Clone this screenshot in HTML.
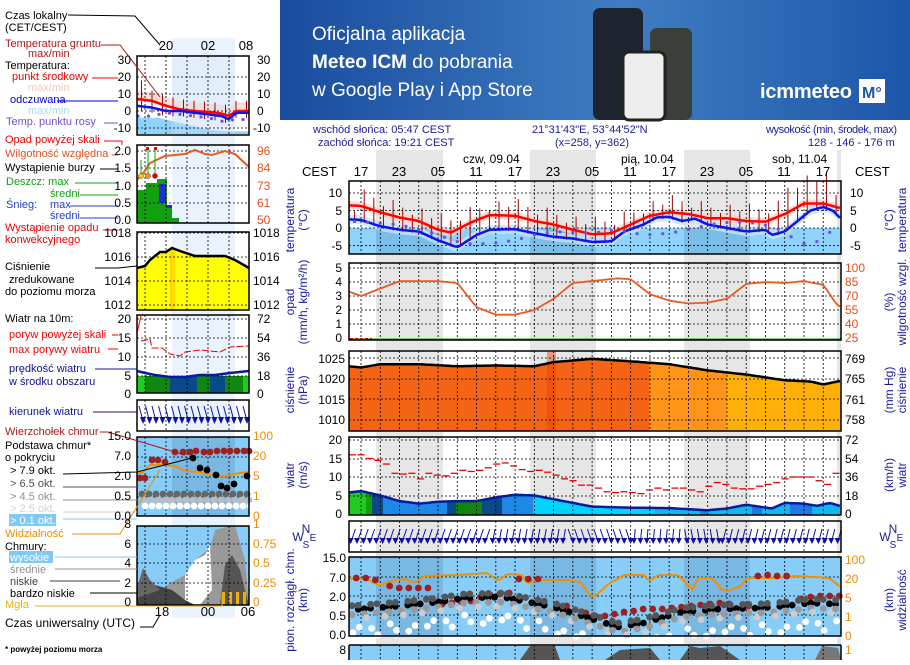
<!DOCTYPE html>
<html><head><meta charset="utf-8"><style>
body{margin:0;width:910px;height:660px;overflow:hidden;background:#fff;font-family:"Liberation Sans",sans-serif}
svg text{font-family:"Liberation Sans",sans-serif}
</style></head><body>
<svg id="s" width="910" height="660" xmlns="http://www.w3.org/2000/svg">
<defs><linearGradient id="bn" x1="0" x2="1"><stop offset="0" stop-color="#1a4c9e"/><stop offset="0.55" stop-color="#3f7dc2"/><stop offset="1" stop-color="#1d56a8"/></linearGradient></defs>
<rect x="280" y="0" width="630" height="120" fill="url(#bn)"/>
<g fill="#fff" font-size="19"><text x="312" y="40">Oficjalna aplikacja</text><text x="312" y="68"><tspan font-weight="bold">Meteo ICM</tspan> do pobrania</text><text x="312" y="96">w Google Play i App Store</text></g>
<rect x="593" y="8" width="50" height="112" rx="7" fill="#1d2430"/><rect x="650" y="28" width="42" height="92" rx="7" fill="#3a3f3a"/><rect x="623" y="52" width="42" height="68" rx="6" fill="#eee" stroke="#222" stroke-width="3"/>
<text x="760" y="98" fill="#fff" font-size="20" font-weight="bold" textLength="92">icmmeteo</text><rect x="859" y="79" width="26" height="24" fill="#fff"/><text x="862" y="98" fill="#1d56a8" font-size="16" font-weight="bold">M°</text>
<g id="g"></g>
<g font-size="11" fill="#1a1a9e">
<text x="313" y="133">wschód słońca: 05:47 CEST</text><text x="318" y="146">zachód słońca: 19:21 CEST</text>
<text x="532" y="133">21°31'43"E, 53°44'52"N</text><text x="555" y="146">(x=258,  y=362)</text>
<text x="766" y="133" textLength="131">wysokość (min, środek, max)</text><text x="808" y="146">128 - 146 - 176 m</text>
</g>
<g font-size="12" fill="#000">
<text x="463" y="163">czw, 09.04</text><text x="621" y="163">pią, 10.04</text><text x="772" y="163">sob, 11.04</text>
<text x="302" y="176" font-size="13">CEST</text><text x="855" y="176" font-size="13">CEST</text>
<g font-size="13" text-anchor="middle"><text x="361" y="176">17</text><text x="399" y="176">23</text><text x="438" y="176">05</text><text x="476" y="176">11</text><text x="515" y="176">17</text><text x="553" y="176">23</text><text x="592" y="176">05</text><text x="630" y="176">11</text><text x="669" y="176">17</text><text x="707" y="176">23</text><text x="746" y="176">05</text><text x="784" y="176">11</text><text x="823" y="176">17</text></g>
</g>
<g font-size="12" text-anchor="end" fill="#000">
<text x="342" y="197">10</text><text x="342" y="215">5</text><text x="342" y="232">0</text><text x="342" y="250">-5</text>
<text x="342" y="272">5</text><text x="342" y="286">4</text><text x="342" y="300">3</text><text x="342" y="314">2</text><text x="342" y="328">1</text><text x="342" y="342">0</text>
<text x="345" y="363">1025</text><text x="345" y="383">1020</text><text x="345" y="404">1015</text><text x="345" y="424">1010</text>
<text x="342" y="444">20</text><text x="342" y="463">15</text><text x="342" y="481">10</text><text x="342" y="500">5</text><text x="342" y="518">0</text>
<text x="346" y="562">15.0</text><text x="346" y="582">7.0</text><text x="346" y="601">2.0</text><text x="346" y="620">0.5</text><text x="346" y="639">0.0</text>
<text x="346" y="654">8</text>
</g>
<g font-size="12" fill="#000">
<text x="850" y="197">10</text><text x="850" y="215">5</text><text x="850" y="232">0</text><text x="850" y="250">-5</text>
<text x="845" y="363">769</text><text x="845" y="383">765</text><text x="845" y="404">761</text><text x="845" y="424">758</text>
<text x="845" y="444">72</text><text x="845" y="463">54</text><text x="845" y="481">36</text><text x="845" y="500">18</text><text x="845" y="518">0</text>
</g>
<g font-size="12" fill="#e0501a">
<text x="845" y="272">100</text><text x="845" y="286">85</text><text x="845" y="300">70</text><text x="845" y="314">55</text><text x="845" y="328">40</text><text x="845" y="342">25</text>
<text x="845" y="564" fill="#f08c00">100</text><text x="845" y="583" fill="#f08c00">20</text><text x="845" y="602" fill="#f08c00">5</text><text x="845" y="621" fill="#f08c00">1</text><text x="845" y="640" fill="#f08c00">0</text><text x="845" y="654" fill="#f08c00">1</text>
</g>
<g font-size="12" fill="#1a1a9e" text-anchor="middle">
<text transform="translate(294,220) rotate(-90)">temperatura</text><text transform="translate(307,220) rotate(-90)">(°C)</text>
<text transform="translate(294,302) rotate(-90)">opad</text><text transform="translate(307,302) rotate(-90)">(mm/h, kg/m²/h)</text>
<text transform="translate(294,390) rotate(-90)">ciśnienie</text><text transform="translate(307,390) rotate(-90)">(hPa)</text>
<text transform="translate(294,475) rotate(-90)">wiatr</text><text transform="translate(307,475) rotate(-90)">(m/s)</text>
<text transform="translate(294,600) rotate(-90)">pion. rozciągł. chm.</text><text transform="translate(307,600) rotate(-90)">(km)</text>
<text transform="translate(893,220) rotate(-90)">(°C)</text><text transform="translate(906,220) rotate(-90)">temperatura</text>
<text transform="translate(893,302) rotate(-90)">(%)</text><text transform="translate(906,302) rotate(-90)">wilgotność wzgl.</text>
<text transform="translate(893,390) rotate(-90)">(mm Hg)</text><text transform="translate(906,390) rotate(-90)">ciśnienie</text>
<text transform="translate(893,475) rotate(-90)">(km/h)</text><text transform="translate(906,475) rotate(-90)">wiatr</text>
<text transform="translate(893,600) rotate(-90)">(km)</text><text transform="translate(906,600) rotate(-90)">widzialność</text>
<text x="298" y="541" font-size="12">W</text><text x="306" y="533" font-size="12">N</text><text x="306" y="548" font-size="10">S</text><text x="313" y="541" font-size="10">E</text>
<text x="885" y="541" font-size="12">W</text><text x="893" y="533" font-size="12">N</text><text x="893" y="548" font-size="10">S</text><text x="900" y="541" font-size="10">E</text>
</g>
<!-- left panel text -->
<g font-size="11" fill="#000">
<text x="5" y="19">Czas lokalny</text><text x="5" y="31">(CET/CEST)</text>
<text x="5" y="47" fill="#b01818">Temperatura gruntu</text><text x="28" y="57" fill="#b01818">max/min</text>
<text x="5" y="69">Temperatura:</text><text x="12" y="80" fill="#f00000">punkt środkowy</text><text x="28" y="91" fill="#f8c8b8">max/min</text>
<text x="10" y="103" fill="#0000e0">odczuwana</text><text x="28" y="114" fill="#a8dcf0">max/min</text><text x="6" y="125" fill="#7050d0">Temp. punktu rosy</text>
<text x="5" y="143" fill="#f00000">Opad powyżej skali</text><text x="5" y="157" fill="#e05020">Wilgotność względna</text><text x="5" y="171">Wystąpienie burzy</text>
<text x="6" y="185" fill="#10a010">Deszcz: max</text><text x="50" y="197" fill="#10a010">średni</text>
<text x="6" y="208" fill="#2040d0">Śnieg:</text><text x="50" y="208" fill="#2040d0">max</text><text x="50" y="219" fill="#2040d0">średni</text>
<text x="5" y="231" fill="#f00000">Wystąpienie opadu</text><text x="5" y="243" fill="#f00000">konwekcyjnego</text>
<text x="5" y="270">Ciśnienie</text><text x="9" y="283">zredukowane</text><text x="5" y="295">do poziomu morza</text>
<text x="5" y="322">Wiatr na 10m:</text><text x="9" y="338" fill="#f00000">poryw powyżej skali</text><text x="9" y="353" fill="#f00000">max porywy wiatru</text>
<text x="9" y="372" fill="#10108e">prędkość wiatru</text><text x="9" y="385" fill="#10108e">w środku obszaru</text>
<text x="9" y="415" fill="#10108e">kierunek wiatru</text><text x="5" y="435" fill="#b01818">Wierzchołek chmur</text>
<text x="5" y="449">Podstawa chmur*</text><text x="5" y="461">o pokryciu</text>
<text x="10" y="474">&gt; 7.9 okt.</text><text x="10" y="487" fill="#505050">&gt; 6.5 okt.</text><text x="10" y="500" fill="#909090">&gt; 4.5 okt.</text><text x="10" y="512" fill="#d0d0d0">&gt; 2.5 okt.</text>
<rect x="9" y="514" width="47" height="12" fill="#80c8f8"/><text x="10" y="524" fill="#fff">&gt; 0.1 okt.</text>
<text x="5" y="537" fill="#f08c00">Widzialność</text><text x="5" y="550">Chmury:</text>
<rect x="9" y="551" width="44" height="12" fill="#80c8f8"/><text x="10" y="561" fill="#fff">wysokie</text>
<text x="10" y="573" fill="#909090">średnie</text><text x="10" y="585" fill="#404040">niskie</text><text x="10" y="597">bardzo niskie</text><text x="5" y="608" fill="#f0b000">Mgła</text>
<text x="5" y="627" font-size="12">Czas uniwersalny (UTC)</text><text x="5" y="652" font-size="8" font-weight="bold">* powyżej poziomu morza</text>
<g text-anchor="middle" font-size="13"><text x="166" y="50">20</text><text x="208" y="50">02</text><text x="246" y="50">08</text><text x="162" y="616">18</text><text x="208" y="616">00</text><text x="248" y="616">06</text></g>
</g>
<g font-size="12" text-anchor="end">
<text x="131" y="64">30</text><text x="131" y="81">20</text><text x="131" y="98">10</text><text x="131" y="115">0</text><text x="131" y="132">-10</text>
<text x="131" y="155">2.0</text><text x="131" y="172">1.5</text><text x="131" y="190">1.0</text><text x="131" y="207">0.5</text><text x="131" y="224">0.0</text>
<text x="131" y="237">1018</text><text x="131" y="261">1016</text><text x="131" y="285">1014</text><text x="131" y="309">1012</text>
<text x="131" y="323">20</text><text x="131" y="342">15</text><text x="131" y="361">10</text><text x="131" y="380">5</text><text x="131" y="398">0</text>
<text x="131" y="440">15.0</text><text x="131" y="460">7.0</text><text x="131" y="480">2.0</text><text x="131" y="500">0.5</text><text x="131" y="520">0.0</text>
<text x="131" y="528">8</text><text x="131" y="548">6</text><text x="131" y="567">4</text><text x="131" y="587">2</text><text x="131" y="606">0</text>
</g>
<g font-size="12">
<text x="257" y="64">30</text><text x="257" y="81">20</text><text x="257" y="98">10</text><text x="257" y="115">0</text><text x="253" y="132">-10</text>
<g fill="#e05020"><text x="257" y="155">96</text><text x="257" y="172">84</text><text x="257" y="190">73</text><text x="257" y="207">61</text><text x="257" y="224">50</text></g>
<text x="253" y="237">1018</text><text x="253" y="261">1016</text><text x="253" y="285">1014</text><text x="253" y="309">1012</text>
<text x="257" y="323">72</text><text x="257" y="342">54</text><text x="257" y="361">36</text><text x="257" y="380">18</text><text x="257" y="398">0</text>
<g fill="#f08c00"><text x="253" y="440">100</text><text x="253" y="460">20</text><text x="253" y="480">5</text><text x="253" y="500">1</text><text x="253" y="520">0</text>
<text x="253" y="528">1</text><text x="253" y="548">0.75</text><text x="253" y="567">0.5</text><text x="253" y="587">0.25</text><text x="253" y="606">0</text></g>
</g>
</svg>
<script>
const S=document.getElementById('g'),NS='http://www.w3.org/2000/svg';
function el(t,a){const e=document.createElementNS(NS,t);for(const k in a)e.setAttribute(k,a[k]);S.appendChild(e);return e}
function ip(a,t){if(t<=a[0][0])return a[0][1];for(let i=1;i<a.length;i++)if(t<=a[i][0]){const p=a[i-1],q=a[i];return p[1]+(q[1]-p[1])*(t-p[0])/(q[0]-p[0])}return a[a.length-1][1]}
function pts(a,X,Y,t0,t1,st){let s=[];for(let t=t0;t<=t1+1e-6;t+=st)s.push(X(t).toFixed(1)+','+Y(ip(a,t)).toFixed(1));return s}
const X=t=>361+t*6.42,T0=-1.9,T1=74.8,L=349,R=841;
[[376,443],[530,596],[684,750]].forEach(b=>el('rect',{x:b[0],y:150,width:b[1]-b[0],height:510,fill:'#e6e6e6'}));
el('rect',{x:837,y:150,width:4,height:510,fill:'#e6e6e6'});
function frame(y0,y1){el('rect',{x:L,y:y0,width:R-L,height:y1-y0,fill:'none',stroke:'#000','stroke-width':1.5})}
function vgrid(y0,y1){for(let t=0;t<=72;t+=3)el('line',{x1:X(t),x2:X(t),y1:y0,y2:y1,stroke:'#000','stroke-dasharray':'2,2','stroke-width':.8})}
function hgrid(ys){ys.forEach(y=>el('line',{x1:L,x2:R,y1:y,y2:y,stroke:'#000','stroke-dasharray':'2,2','stroke-width':.8}))}
const TY=v=>228-v*3.5;
const red=[[-2,6.5],[0,6.3],[3,4.5],[6,3],[9,2],[12,-0.5],[14,-1.3],[17,1.5],[20,3.7],[24,3.5],[27,2],[30,1],[33,-0.5],[36,-1.8],[39,-1.5],[42,1],[45,3.5],[48,4.5],[51,4],[54,2.8],[57,2.8],[60,2],[63,1.8],[66,4],[69,7],[72,7],[75,5.5]];
const blu=[[-2,2.5],[0,2.3],[3,0.5],[6,-0.5],[9,-1],[12,-3.5],[15,-5.5],[18,-2],[20,-0.5],[24,-0.3],[27,-1.5],[30,-2.5],[33,-3],[36,-4],[39,-3.8],[41,-1],[44,1],[46,3],[48,3.2],[50,2],[52,2.7],[54,1],[57,0],[60,-1],[63,-0.5],[64,-2],[66,-1],[68,2],[70,5],[72,6],[73.5,5],[74.8,2.5]];
const dew=[[-2,2],[2,1.5],[6,1],[9,-0.5],[12,-2],[16,-4.5],[20,-4.5],[24,-3.5],[27,-2],[30,-1],[36,-1.5],[40,-0.5],[44,-2],[48,-1.5],[52,0],[56,1.5],[60,1.8],[64,0.5],[66,-1],[68,-4],[70,-4.8],[72,-3],[74,0.5]];
el('rect',{x:L,y:228,width:R-L,height:26,fill:'#8fd2fa'});
[[376,443],[530,596],[684,750]].forEach(b=>el('rect',{x:b[0],y:228,width:b[1]-b[0],height:26,fill:'#7cbde8'}));
let up=pts(red,X,v=>TY(v+1.2),T0,T1,0.5),dn=pts(red,X,v=>TY(v-1.2),T0,T1,0.5).reverse();
el('polygon',{points:up.concat(dn).join(' '),fill:'#fbd6cc',opacity:.8});
up=pts(blu,X,v=>TY(v+1.3),T0,T1,0.5);dn=pts(blu,X,v=>TY(v-1.3),T0,T1,0.5).reverse();
el('polygon',{points:up.concat(dn).join(' '),fill:'#c4e6fa',opacity:.8});
for(let t=-1;t<=74;t+=1.5){const b=ip(blu,t)-0.5,top=ip(red,t)+1.5+((t*7)%4)+(t>66&&t<73?4:0);el('line',{x1:X(t),x2:X(t),y1:TY(b),y2:TY(top),stroke:'#a00000','stroke-width':1})}
vgrid(181,254);hgrid([TY(10),TY(5),TY(0),TY(-5)]);
el('polyline',{points:pts(red,X,TY,T0,T1,0.5).join(' '),fill:'none',stroke:'#f00','stroke-width':2.5});
el('polyline',{points:pts(blu,X,TY,T0,T1,0.5).join(' '),fill:'none',stroke:'#1010f0','stroke-width':2.5});
for(let t=-1;t<=74;t+=2)el('circle',{cx:X(t),cy:TY(ip(dew,t)),r:1.6,fill:'#7050d8'});
frame(181,254);
const HY=v=>338-(v-25)*0.933;
const rhd=[[-2,75],[0,70],[6,86],[12,86],[15,84],[18,58],[21,50],[24,50],[27,55],[30,67],[33,84],[36,86],[40,89],[42,88],[45,72],[48,65],[51,62],[54,63],[57,67],[60,83],[63,85],[66,84],[69,86],[72,82],[74,62],[77,45],[80,40],[84,45],[87,55],[89,70]];
vgrid(263,340);hgrid([268,282,296,310,324]);
el('polyline',{points:pts(rhd,X,HY,T0,T1,0.5).join(' '),fill:'none',stroke:'#e85a20','stroke-width':1.8});
el('line',{x1:L,x2:R,y1:339,y2:339,stroke:'#10a010','stroke-width':1});
el('line',{x1:350,x2:372,y1:339,y2:339,stroke:'#e00','stroke-width':2,'stroke-dasharray':'3,2'});
frame(263,340);
const PY=v=>358-(v-1025)*4.13;
const pr=[[-2,1023],[0,1022.7],[3,1023.5],[9,1023.5],[15,1023],[21,1023.2],[27,1023],[30,1024],[36,1024.8],[42,1024.2],[48,1023.5],[54,1022],[60,1021],[66,1019.6],[70,1019.3],[72,1018.6],[74.8,1019.5]];
const pp=pts(pr,X,PY,T0,T1,0.5);
const fills=[[L,649,'#f46414'],[649,726,'#ff9418'],[726,R,'#ffb008']];
fills.forEach(f=>{const c=el('clipPath',{id:'c'+f[0]});const r=document.createElementNS(NS,'rect');r.setAttribute('x',f[0]);r.setAttribute('y',340);r.setAttribute('width',f[1]-f[0]);r.setAttribute('height',100);c.appendChild(r);
el('polygon',{points:pp.join(' ')+' '+R+',431 '+L+',431',fill:f[2],'clip-path':'url(#c'+f[0]+')'})});
el('rect',{x:547,y:352,width:9,height:79,fill:'#e83a10',opacity:.45});
vgrid(351,431);hgrid([358,379,399,420]);
el('polyline',{points:pp.join(' '),fill:'none',stroke:'#000','stroke-width':2.5});
frame(351,431);
const WY=v=>514-v*3.7;
const ws=[[-2,5.8],[0,6.2],[3,5],[6,3.5],[9,2.8],[12,3.3],[15,3.5],[18,3.5],[21,4.5],[24,5.2],[27,5],[30,4],[33,3],[36,2],[42,1.7],[48,1.6],[54,1],[57,1.5],[60,2.5],[62,2],[64,1.5],[66,3],[69,2.8],[71,2.2],[73,3],[75,2]];
const wp=pts(ws,X,WY,T0,T1,0.5);
const wf=[[L,366,'#20cc20'],[366,372,'#10a010'],[372,383,'#0a4a8a'],[383,447,'#1e88e8'],[447,456,'#0a4a8a'],[456,482,'#108810'],[482,502,'#0a4a8a'],[502,533,'#1e88e8'],[533,655,'#00d4ff'],[655,700,'#10b8f0'],[700,708,'#1e88e8'],[708,752,'#10b8f0'],[752,762,'#1e78e0'],[762,790,'#10b8f0'],[790,812,'#1e78e0'],[812,R,'#10b8f0']];
wf.forEach((f,i)=>{const c=el('clipPath',{id:'w'+i});const r=document.createElementNS(NS,'rect');r.setAttribute('x',f[0]);r.setAttribute('y',430);r.setAttribute('width',f[1]-f[0]+.5);r.setAttribute('height',90);c.appendChild(r);
el('polygon',{points:wp.join(' ')+' '+R+',515 '+L+',515',fill:f[2],'clip-path':'url(#w'+i+')'})});
vgrid(437,515);hgrid([440,459,477,496]);
el('polyline',{points:wp.join(' '),fill:'none',stroke:'#0a1a9a','stroke-width':2.5});
const gu=[16,16,15,14.5,13.5,11,10.8,11,9.5,11,10.5,10.3,11,11.8,11.5,11.8,12.5,13.5,13.8,13,12,11.5,11.8,11.3,10.5,9.5,9,7.8,7.8,7,6,5.8,6,5.8,5.5,6.5,7,6.5,7,7,6.5,6,7.5,8.5,8,7,6.8,6.8,7.5,8,8.5,9.5,10,10,10,9,8,11];
gu.forEach((g,i)=>{const x=L+i*(R-L)/gu.length;el('line',{x1:x,x2:x+7,y1:WY(g),y2:WY(g),stroke:'#e00','stroke-width':1.3})});
frame(437,515);
vgrid(521,552);
for(let x=353;x<840;x+=6.4){const t=(x-361)/6.42;let a=t<20?-20:t<32?-10:t<42?20:t<50?-5:t<56?10:-15;a=a*Math.PI/180;const L2=14,x0=x-Math.sin(a)*L2/2,y0=529,x1=x+Math.sin(a)*L2/2,y1=543;
el('line',{x1:x0,y1:y0,x2:x1,y2:y1,stroke:'#1010a0','stroke-width':1});el('polygon',{points:`${x1-3},${y1-5} ${x1+3},${y1-5} ${x1},${y1+1}`,fill:'#1010a0'})}
frame(521,552);
el('rect',{x:L,y:557,width:R-L,height:79,fill:'#88ccf8'});
[[376,443],[530,596],[684,750]].forEach(b=>el('rect',{x:b[0],y:557,width:b[1]-b[0],height:79,fill:'#7ab8e4'}));
vgrid(557,636);hgrid([577,596,615]);
const vis=[[-2,579],[1,579],[4,586],[5,583],[7,580],[9,579],[11,583],[13,576],[20,575],[26,573],[28,581],[30,574],[33,575],[34,584],[36,580],[42,580],[45,582],[47,596],[48,596],[51,583],[54,575],[58,575],[59,581],[61,575],[65,575],[68,590],[69,578],[72,578],[74,590],[75,591],[78,586],[79,578],[85,578],[89,576],[96,578],[99,590]];
const visx=vis.map(p=>[p[0]*0.76,p[1]]);
el('polyline',{points:pts(visx,X,v=>v,T0,T1,0.5).join(' '),fill:'none',stroke:'#f09000','stroke-width':2});
function dot(x,y,c){el('circle',{cx:x,cy:y,r:3.4,fill:c})}
const br=[[-1,578],[1,578],[3,580],[6,586],[8,588],[10,588],[12,588],[14,588],[17,604],[19,603],[21,602],[23,601],[25,597],[27,595],[29,594],[31,593],[33,579],[35,579],[37,579],[43,606],[47,613],[49,616],[51,616],[53,614],[55,612],[57,611],[59,609],[61,609],[63,609],[65,608],[67,607],[69,606],[71,605],[73,604],[75,603],[77,604],[80,605],[81,606],[83,576],[85,575],[87,576],[89,576],[92,599],[94,597],[96,596],[98,596],[100,596]];
br.forEach(p=>{const t=p[0]*0.745;if(t<=74.8)dot(X(t),p[1],'#a02020')});
let k=0;for(let x=352;x<840;x+=6.2){k++;const t=(x-361)/6.42;const b=ip([[-2,610],[6,606],[12,602],[16,598],[22,597],[30,607],[36,619],[40,627],[44,623],[50,612],[56,609],[62,608],[66,606],[70,603],[74,604]],t);
if(k%4!=1)dot(x,b,'#000');if(k%3)dot(x,b-4,'#555');if(k%2)dot(x,b+5,'#999');if(k%3==0)dot(x+2,b+9,'#ccc');if(k%3)dot(x+1,b+16+(k*7)%12,'#fff')}
frame(557,636);
el('rect',{x:L,y:645,width:R-L,height:15,fill:'#88ccf8'});
el('polygon',{points:'520,660 530,646 555,646 560,660',fill:'#555'});el('polygon',{points:'605,660 620,650 650,648 660,660',fill:'#555'});
el('polygon',{points:'680,660 690,646 700,648 720,646 740,660',fill:'#555'});el('polygon',{points:'815,660 822,646 838,648 841,660',fill:'#777'});
vgrid(645,660);el('line',{x1:L,x2:L,y1:645,y2:660,stroke:'#000','stroke-width':1.5});el('line',{x1:R,x2:R,y1:645,y2:660,stroke:'#000','stroke-width':1.5});el('line',{x1:L,x2:R,y1:645,y2:645,stroke:'#000','stroke-width':1.5});
// LEFT
const XL=h=>166+h*7,LL=137,LR=249;
el('rect',{x:172,y:38,width:63,height:580,fill:'#eaf3fd'});
function lg(y0,y1,hs){for(const h of[-3,0,3,6,9])el('line',{x1:XL(h),x2:XL(h),y1:y0,y2:y1,stroke:'#000','stroke-dasharray':'2,2','stroke-width':.8});hs.forEach(y=>el('line',{x1:LL,x2:LR,y1:y,y2:y,stroke:'#000','stroke-dasharray':'2,2','stroke-width':.8}))}
function lf(y0,y1){el('rect',{x:LL,y:y0,width:LR-LL,height:y1-y0,fill:'none',stroke:'#000','stroke-width':1.5})}
const LY=v=>111-v*1.7;
const lr=[[-4,7],[-2,6],[0,3],[2,1],[4,0],[6,-0.5],[8,-1.5],[9,-3],[10,0],[12,0]],lb=[[-4,3],[-2,2],[0,0],[2,0],[4,-1],[6,-2],[8,-3],[9,-5],[10,-1],[12,-1]];
const ld=[[-4,-3],[-2,-3],[0,-1],[2,-2],[4,-3],[6,-4],[8,-6],[10,-5]];
el('polygon',{points:pts([[-4,-4],[-1,-4],[3,-8],[6,-11],[9,-12],[12,-12]],XL,LY,-4.1,11.9,0.5).join(' ')+` ${LR},134 ${LL},134`,fill:'#8fd2fa'});
up=pts(lr,XL,v=>LY(v+5),-4.1,11.9,0.5);dn=pts(lr,XL,v=>LY(v-1),-4.1,11.9,0.5).reverse();el('polygon',{points:up.concat(dn).join(' '),fill:'#fbd6cc',opacity:.8});
el('rect',{x:172,y:56,width:63,height:79,fill:'#cfe3f7',opacity:.3});
for(let h=-3.5;h<=12;h+=1.5)el('line',{x1:XL(h),x2:XL(h),y1:LY(ip(lb,h)-3),y2:LY(h<-2?18:ip(lr,h)+6),stroke:'#a00000'});
lg(56,135,[77,94,111,128]);
el('polyline',{points:pts(lr,XL,LY,-4.1,11.9,0.5).join(' '),fill:'none',stroke:'#f00','stroke-width':2.5});
el('polyline',{points:pts(lb,XL,LY,-4.1,11.9,0.5).join(' '),fill:'none',stroke:'#1010f0','stroke-width':2.5});
for(let h=-4;h<=11;h+=1.5)el('circle',{cx:XL(h),cy:LY(ip(ld,h)),r:1.6,fill:'#7050d8'});
lf(56,135);
el('rect',{x:137,y:190,width:10,height:33,fill:'#10a010'});el('rect',{x:146,y:183,width:12,height:40,fill:'#10a010'});el('rect',{x:157,y:179,width:10,height:44,fill:'#10a010'});
el('rect',{x:159,y:184,width:7,height:19,fill:'#2030d0'});el('rect',{x:166,y:208,width:6,height:15,fill:'#10a010'});el('rect',{x:166,y:205,width:6,height:3,fill:'#2030d0'});el('rect',{x:172,y:218,width:7,height:5,fill:'#10a010'});
lg(145,223,[151,168,186,203]);
el('polyline',{points:'137,180 144,172 150,163 165,156 185,154 195,150 205,154 212,155 225,151 235,154 249,167',fill:'none',stroke:'#e85a20','stroke-width':2});
[[141,176],[148,176],[155,176]].forEach((p,i)=>{el('line',{x1:p[0],x2:p[0],y1:p[1],y2:i?150:160,stroke:'#10a010'});el('circle',{cx:p[0],cy:p[1],r:2.5,fill:['#f0d000','#f0a000','#e00000'][i],stroke:'#333','stroke-width':.5})});
el('rect',{x:146,y:147,width:3,height:3,fill:'#e00'});el('rect',{x:154,y:147,width:3,height:3,fill:'#e00'});
lf(145,223);
el('polygon',{points:'137,268 145,266 150,260 160,252 166,252 172,248 180,251 195,256 210,256 225,256 235,260 249,268 249,310 137,310',fill:'#ffff00'});
el('rect',{x:170,y:250,width:5,height:60,fill:'#ffd800'});
lg(232,310,[233,257,281,305]);
el('polyline',{points:'137,268 145,266 150,260 160,252 166,252 172,248 180,251 195,256 210,256 225,256 235,260 249,268',fill:'none',stroke:'#000','stroke-width':2.5});
lf(232,310);
const lw='137,371 145,373 155,375 170,377 185,377 200,375 215,375 230,373 249,371';
[[137,145,'#20cc20'],[145,170,'#108810'],[170,197,'#0a4a8a'],[197,210,'#108810'],[210,225,'#0a4a8a'],[225,243,'#108810'],[243,249,'#20cc20']].forEach(f=>{el('rect',{x:f[0],y:376,width:f[1]-f[0],height:17,fill:f[2]})});
lg(315,393,[319,338,357,376]);
el('polyline',{points:lw,fill:'none',stroke:'#0a1a9a','stroke-width':2.5});
el('line',{x1:137,x2:141,y1:333,y2:316,stroke:'#e00'});el('polyline',{points:'141,341 150,339 152,348 162,348 170,354 180,356 185,352 200,350 220,352 230,347 249,346',fill:'none',stroke:'#e00','stroke-dasharray':'7,2'});
lf(315,393);
lg(400,431,[]);
for(let x=141;x<250;x+=6.5){el('line',{x1:x-2,y1:406,x2:x+2,y2:421,stroke:'#1010a0'});el('polygon',{points:`${x-1},${417} ${x+5},${417} ${x+2},${424}`,fill:'#1010a0'})}
lf(400,431);
el('rect',{x:LL,y:437,width:LR-LL,height:79,fill:'#88ccf8'});el('rect',{x:172,y:437,width:63,height:79,fill:'#7ab8e4'});
lg(437,516,[457,477,497]);
el('polyline',{points:'137,473 142,473 150,465 165,465 175,466 185,471 200,472 215,476 225,476 240,473 249,472',fill:'none',stroke:'#f09000','stroke-width':2});
[[140,478],[145,478],[152,460],[158,460],[165,462],[175,452],[183,452],[190,452],[196,451],[204,452],[210,452],[217,451],[224,451],[230,451],[237,451],[244,451],[249,451]].forEach(p=>dot(p[0],p[1],'#a02020'));
[[193,458],[200,468],[207,470],[216,475],[221,486],[227,488],[234,484],[247,476]].forEach(p=>dot(p[0],p[1],'#000'));
for(let x=142;x<249;x+=7){dot(x,494,'#666');dot(x+2,500,'#bbb');dot(x+3,506,'#fff')}
lf(437,516);
el('rect',{x:LL,y:526,width:LR-LL,height:79,fill:'#88ccf8'});
el('polygon',{points:'137,605 137,590 144,570 150,580 160,590 172,582 185,575 195,560 210,548 215,530 235,525 245,560 249,605',fill:'#999'});
el('polygon',{points:'185,575 195,560 205,555 210,545 212,590 200,605 185,605',fill:'#fff'});
el('polygon',{points:'137,605 137,595 145,590 155,585 172,590 185,600 195,605',fill:'#444'});
el('polygon',{points:'137,588 143,568 150,580 160,590 137,598',fill:'#666'});
el('polygon',{points:'220,605 225,565 232,555 240,570 245,590 249,605',fill:'#555'});
[[222,592],[229,592],[236,592],[243,592]].forEach(p=>el('rect',{x:p[0],y:p[1],width:3,height:13,fill:'#f0b000'}));
lg(526,605,[544,563,583]);lf(526,605);
const ls=[['M68,15 L135,16 L160,45','#000'],['M101,45 L120,45 L160,97','#b01818'],['M92,78 L118,78','#f00'],['M57,101 L118,101','#0000e0'],['M104,123 L118,123','#7050d0'],['M104,141 L122,141 L122,145','#f00'],['M112,155 L118,155','#e05020'],['M100,169 L118,169','#000'],['M75,183 L118,183','#10a010'],['M80,195 L118,195','#10a010'],['M70,206 L118,206','#2040d0'],['M80,218 L118,218','#2040d0'],['M103,230 L118,230','#f00'],['M95,268 L118,268 L137,266','#000'],['M112,335 L118,335','#f00'],['M108,349 L118,349','#f00'],['M95,369 L137,369','#10108e'],['M93,412 L137,412','#10108e'],['M100,432 L108,432 L185,455','#b01818'],['M63,474 L137,472 L192,458','#000'],['M63,487 L137,487','#505050'],['M63,500 L137,500','#909090'],['M63,512 L137,512','#d0d0d0'],['M63,519 L137,519','#80c8f8'],['M72,534 L120,534 L160,470','#f08c00'],['M55,557 L137,557','#80c8f8'],['M55,569 L137,569','#909090'],['M50,581 L120,581','#404040'],['M90,593 L137,593','#000'],['M35,606 L222,606 L222,595','#f0b000'],['M140,627 L153,627 L160,615','#000']];
ls.forEach(l=>el('path',{d:l[0],fill:'none',stroke:l[1],'stroke-width':1}));
</script>
</body></html>
